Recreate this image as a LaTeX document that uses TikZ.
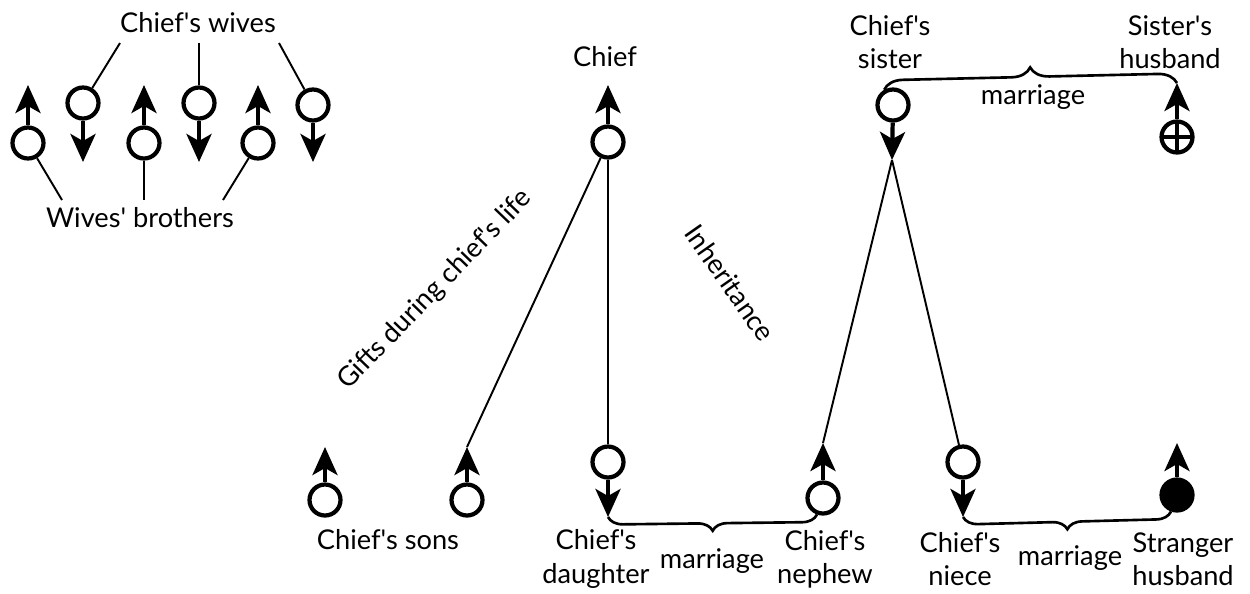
\documentclass[tikz,border=0pt]{standalone}
\usepackage{fontspec}
\setmainfont{Lato}[Ligatures=TeXOff]
\usetikzlibrary{arrows.meta,decorations.pathreplacing}

\begin{document}
\begin{tikzpicture}[x=0.02cm,y=-0.02cm,font=\fontsize{15.5}{19}\selectfont]
  \tikzstyle{person}=[circle,draw=black,line width=2.4pt,minimum size=0.62cm,inner sep=0pt]
  \tikzstyle{sym}=[line width=2.4pt,-{Stealth[length=5.6mm,width=5mm,inset=1.4mm]}]
  \tikzstyle{link}=[draw,line width=1.1pt]
  \tikzstyle{marr}=[draw,line width=1.5pt,decorate,decoration={brace,amplitude=0.3cm}]
  \tikzstyle{word}=[align=center,inner sep=1pt]
  \useasboundingbox (0,0) rectangle (1250,593);

  % wives and their brothers
  \foreach \x/\n in {28/b1,144/b2,258/b3} {
    \node [person] (\n) at (\x,143) {};
    \coordinate (\n t) at (\x,85);
    \draw [sym] (\n) -- (\n t);
  }
  \foreach \x/\y/\n in {83/103/w1,199/103/w2,313/105/w3} {
    \node [person] (\n) at (\x,\y) {};
    \coordinate (\n t) at (\x,162);
    \draw [sym] (\n) -- (\n t);
  }
  \node [word] (wl) at (198,23) {Chief's wives};
  \node [word] (bl) at (140,218) {Wives' brothers};
  \coordinate (wl1) at (120,43);
  \coordinate (wl2) at (199,43);
  \coordinate (wl3) at (279,43);
  \coordinate (bl1) at (62,200);
  \coordinate (bl2) at (144,200);
  \coordinate (bl3) at (223,200);
  \path[link] (wl1) -- (w1);
  \path[link] (wl2) -- (w2);
  \path[link] (wl3) -- (w3);
  \path[link] (b1) -- (bl1);
  \path[link] (b2) -- (bl2);
  \path[link] (b3) -- (bl3);

  % chief and his sister
  \node [word] (chl) at (605,57) {Chief};
  \node [person] (ch) at (608,142) {};
  \coordinate (cht) at (608,85);
  \draw [sym] (ch) -- (cht);

  \node [word] (sisl) at (890,42) {Chief's\\sister};
  \node [person] (sis) at (893,105) {};
  \coordinate (sist) at (892,160);
  \draw [sym] (sis) -- (sist);

  \node [word] (husl) at (1170,42) {Sister's\\husband};
  \node [person,path picture={
      \draw[line width=1.8pt] (path picture bounding box.north) -- (path picture bounding box.south)
        (path picture bounding box.west) -- (path picture bounding box.east);}] (hus) at (1177,137) {};
  \coordinate (hust) at (1177,83);
  \draw [sym] (hus) -- (hust);

  % next generation
  \node [person] (s1) at (325,500) {};
  \coordinate (s1t) at (325,447);
  \draw [sym] (s1) -- (s1t);
  \node [person] (s2) at (467,500) {};
  \coordinate (s2t) at (467,447);
  \draw [sym] (s2) -- (s2t);
  \node [word] (sonl) at (388,540) {Chief's sons};

  \node [person] (dau) at (608,462) {};
  \coordinate (daut) at (608,517);
  \draw [sym] (dau) -- (daut);
  \node [word] (daul) at (596,559) {Chief's\\daughter};

  \node [person] (nep) at (823,498) {};
  \coordinate (nept) at (823,443);
  \draw [sym] (nep) -- (nept);
  \node [word] (nepl) at (825,559) {Chief's\\nephew};

  \node [person] (nie) at (963,462) {};
  \coordinate (niet) at (963,517);
  \draw [sym] (nie) -- (niet);
  \node [word] (niel) at (960,559) {Chief's\\niece};

  \node [person,fill=black] (str) at (1177,495) {};
  \coordinate (strt) at (1177,443);
  \draw [sym] (str) -- (strt);
  \node [word] (strl) at (1183,559) {Stranger\\husband};

  % gifts, inheritance, marriages
  \path[link] (ch) -- (dau);
  \path[link] (ch) -- (s2t);
  \path[link] (sist) -- (nept);
  \path[link] (sist) -- (nie);
  \node [word,rotate=46] (gifl) at (435,290) {Gifts during chief's life};
  \node [word,rotate=-55] (inhl) at (730,283) {Inheritance};

  \path[marr,decoration={amplitude=0.38cm}] (sis.120) -- (hust);
  \path[marr] (nep.250) -- (daut);
  \path[marr] (str.250) -- (niet);
  \node [word] (m1) at (1033,97) {marriage};
  \node [word] (m2) at (712,561) {marriage};
  \node [word] (m3) at (1070,558) {marriage};
\end{tikzpicture}
\end{document}
